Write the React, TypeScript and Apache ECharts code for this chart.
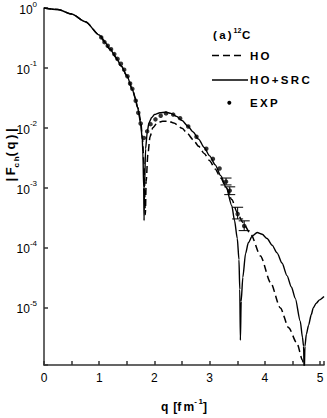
import React, { useEffect, useRef } from 'react';
import * as echarts from 'echarts';

const FONT = '"Liberation Sans", Arial, Helvetica, sans-serif';
const T = '\u2009';

// HO+SRC (solid) : q [fm^-1] and log10 |F|
const qSRC = [0, 0.25, 0.5, 0.75, 1.0, 1.1, 1.2, 1.3, 1.4, 1.5, 1.6, 1.65, 1.7, 1.75, 1.78, 1.79, 1.805, 1.812, 1.82, 1.84, 1.87, 1.9, 1.95, 2.0, 2.1, 2.2, 2.3, 2.4, 2.5, 2.6, 2.7, 2.8, 2.9, 3.0, 3.1, 3.2, 3.3, 3.4, 3.45, 3.5, 3.53, 3.545, 3.556, 3.57, 3.6, 3.65, 3.7, 3.77, 3.86, 3.95, 4.04, 4.13, 4.22, 4.31, 4.4, 4.48, 4.55, 4.64, 4.68, 4.7, 4.712, 4.725, 4.75, 4.79, 4.84, 4.875, 4.93, 4.99, 5.07];
const logSRC = [0, -0.025, -0.1, -0.23, -0.45, -0.57, -0.69, -0.82, -0.97, -1.13, -1.36, -1.5, -1.68, -1.93, -2.2, -2.4, -3.0, -3.55, -3.0, -2.35, -2.07, -1.92, -1.83, -1.78, -1.75, -1.74, -1.76, -1.81, -1.88, -1.97, -2.07, -2.19, -2.33, -2.47, -2.62, -2.8, -3.0, -3.3, -3.55, -3.85, -4.2, -4.7, -5.55, -4.9, -4.5, -4.1, -3.92, -3.81, -3.75, -3.78, -3.85, -3.96, -4.09, -4.26, -4.47, -4.66, -4.85, -5.23, -5.5, -5.65, -6.1, -5.65, -5.45, -5.3, -5.12, -5.01, -4.93, -4.875, -4.82];

// HO (dashed)
const qHO = [0, 0.25, 0.5, 0.75, 1.0, 1.2, 1.4, 1.5, 1.6, 1.7, 1.75, 1.78, 1.81, 1.835, 1.85, 1.88, 1.92, 1.97, 2.05, 2.15, 2.25, 2.35, 2.5, 2.6, 2.7, 2.8, 2.9, 3.0, 3.1, 3.2, 3.3, 3.4, 3.5, 3.6, 3.74, 3.92, 4.1, 4.28, 4.43, 4.58, 4.68, 4.72];
const logHO = [0, -0.025, -0.1, -0.23, -0.45, -0.69, -0.97, -1.13, -1.36, -1.66, -1.88, -2.15, -2.6, -3.45, -2.9, -2.45, -2.15, -2.0, -1.92, -1.89, -1.89, -1.92, -2.01, -2.1, -2.2, -2.31, -2.43, -2.55, -2.69, -2.84, -3.0, -3.2, -3.42, -3.58, -3.77, -4.14, -4.58, -5.01, -5.34, -5.6, -5.88, -6.1];

// EXP points
const expQ = [1.036, 1.095, 1.154, 1.214, 1.273, 1.332, 1.393, 1.452, 1.511, 1.559, 1.6, 1.661, 1.707, 1.75, 1.809, 1.868, 1.929, 2.018, 2.113, 2.21, 2.34, 2.464, 2.612, 2.761, 2.939, 3.059, 3.179, 3.296, 3.363, 3.506, 3.625];
const expLog = [-0.49, -0.57, -0.63, -0.69, -0.77, -0.85, -0.93, -1.03, -1.14, -1.26, -1.35, -1.55, -1.75, -1.93, -2.17, -2.06, -1.94, -1.86, -1.8, -1.76, -1.78, -1.84, -1.98, -2.15, -2.35, -2.52, -2.68, -2.9, -3.05, -3.44, -3.64];

// error bars (log10 low / high)
const errQ = [3.296, 3.363, 3.506, 3.625];
const errLo = [-2.955, -3.117, -3.523, -3.718];
const errHi = [-2.84, -2.987, -3.328, -3.555];

const yTickExp = [0, -1, -2, -3, -4, -5];

const p = (l: number) => Math.pow(10, l);

export default function App() {
  const ref = useRef<HTMLDivElement>(null);
  useEffect(() => {
    const chart = echarts.init(ref.current!, null, { renderer: 'svg' });
    const axisColor = '#333';
    const option: any = {
      animation: false,
      backgroundColor: '#fff',
      grid: { left: 44, top: 8, width: 283, height: 367 },
      xAxis: {
        type: 'value', min: 0, max: 5.07, interval: 0.5,
        axisLine: { lineStyle: { color: axisColor, width: 1.5 } },
        axisTick: { inside: true, length: 4, lineStyle: { color: axisColor, width: 1.5 } },
        splitLine: { show: false },
        axisLabel: {
          color: '#000', fontSize: 12, fontFamily: FONT, margin: 7,
          formatter: (v: number) => (Math.abs(v - Math.round(v)) < 1e-6 ? String(Math.round(v)) : ''),
        },
        name: `{a|q${T}${T}[f${T}m}{s|-${T}1}{a|]}`,
        nameLocation: 'middle', nameGap: 32,
        nameTextStyle: {
          rich: {
            a: { fontSize: 12, fontWeight: 'bold', fontFamily: FONT, color: '#000', lineHeight: 16, verticalAlign: 'bottom' },
            s: { fontSize: 8, fontWeight: 'bold', fontFamily: FONT, color: '#000', lineHeight: 8, verticalAlign: 'top' },
          },
        },
      },
      yAxis: {
        type: 'log', logBase: 10, min: 1.09e-6, max: 1, splitNumber: 6,
        axisLine: { lineStyle: { color: axisColor, width: 1.5 } },
        axisTick: { inside: true, length: 4, lineStyle: { color: axisColor, width: 1.5 } },
        splitLine: { show: false },
        minorTick: { show: false },
        axisLabel: {
          margin: 7,
          formatter: (v: number) => {
            const l = Math.log10(v);
            const e = Math.round(l);
            if (Math.abs(l - e) > 0.01 || !yTickExp.includes(e)) return '';
            return `{b|10}{s|${e}}`;
          },
          rich: {
            b: { fontSize: 12, fontFamily: FONT, color: '#000', lineHeight: 16, verticalAlign: 'bottom' },
            s: { fontSize: 8, fontFamily: FONT, color: '#000', lineHeight: 8, verticalAlign: 'top' },
          },
        },
      },
      graphic: [
        {
          type: 'text', x: 12, y: 155, rotation: Math.PI / 2,
          style: {
            text: `{a||${T}F}{s|c${T}h}{a|(${T}q${T})${T}|}`,
            align: 'center', verticalAlign: 'middle',
            rich: {
              a: { fontSize: 13, fontWeight: 'bold', fontFamily: FONT, fill: '#000', lineHeight: 16, verticalAlign: 'top' },
              s: { fontSize: 8, fontWeight: 'bold', fontFamily: FONT, fill: '#000', lineHeight: 8, verticalAlign: 'bottom' },
            },
          },
        },
        { type: 'text', x: 213, y: 35, style: { text: `(${T}a${T})`, font: `bold 11.5px ${FONT}`, fill: '#000', verticalAlign: 'middle' } },
        { type: 'text', x: 233.5, y: 30, style: { text: '12', font: `bold 7px ${FONT}`, fill: '#000', verticalAlign: 'middle' } },
        { type: 'text', x: 242, y: 35, style: { text: 'C', font: `bold 11.5px ${FONT}`, fill: '#000', verticalAlign: 'middle' } },
        { type: 'line', shape: { x1: 212, y1: 55.5, x2: 244, y2: 55.5 }, style: { stroke: '#000', lineWidth: 1.5, lineDash: [7, 4] } },
        { type: 'text', x: 250, y: 55.5, style: { text: `H${T}O`, font: `bold 11.5px ${FONT}`, fill: '#000', verticalAlign: 'middle' } },
        { type: 'line', shape: { x1: 212, y1: 80, x2: 248, y2: 80 }, style: { stroke: '#000', lineWidth: 1.4 } },
        { type: 'text', x: 250, y: 80, style: { text: `H${T}O${T}+${T}S${T}R${T}C`, font: `bold 11.5px ${FONT}`, fill: '#000', verticalAlign: 'middle' } },
        { type: 'circle', shape: { cx: 229.3, cy: 102.7, r: 2 }, style: { fill: '#000' } },
        { type: 'text', x: 250, y: 102.5, style: { text: `E${T}X${T}P`, font: `bold 11.5px ${FONT}`, fill: '#000', verticalAlign: 'middle' } },
      ],
      series: [
        {
          name: 'HO', type: 'line', showSymbol: false, smooth: 0.25, smoothMonotone: 'x',
          data: qHO.map((q, i) => [q, p(logHO[i])]),
          lineStyle: { color: '#000', width: 1.5, type: [7, 4] },
        },
        {
          name: 'HO+SRC', type: 'line', showSymbol: false, smooth: 0.25, smoothMonotone: 'x',
          data: qSRC.map((q, i) => [q, p(logSRC[i])]),
          lineStyle: { color: '#000', width: 1.4 },
        },
        {
          name: 'EXP', type: 'scatter', symbolSize: 4.5,
          data: expQ.map((q, i) => [q, p(expLog[i])]),
          itemStyle: { color: '#000' },
        },
        {
          name: 'err', type: 'custom',
          data: errQ.map((q, i) => [q, p(errLo[i]), p(errHi[i])]),
          encode: { x: 0, y: [1, 2] },
          renderItem: (params: any, api: any) => {
            const q = api.value(0);
            const a = api.coord([q, api.value(1)]);
            const b = api.coord([q, api.value(2)]);
            const w = 5.5;
            const st = { stroke: '#000', lineWidth: 1 };
            return {
              type: 'group',
              children: [
                { type: 'line', shape: { x1: a[0], y1: a[1], x2: b[0], y2: b[1] }, style: st },
                { type: 'line', shape: { x1: a[0] - w, y1: a[1], x2: a[0] + w, y2: a[1] }, style: st },
                { type: 'line', shape: { x1: b[0] - w, y1: b[1], x2: b[0] + w, y2: b[1] }, style: st },
              ],
            };
          },
        },
      ],
    };
    chart.setOption(option);
    return () => chart.dispose();
  }, []);
  return <div ref={ref} style={{ position: 'fixed', left: 0, top: 0, width: 327, height: 418, background: '#fff' }} />;
}
